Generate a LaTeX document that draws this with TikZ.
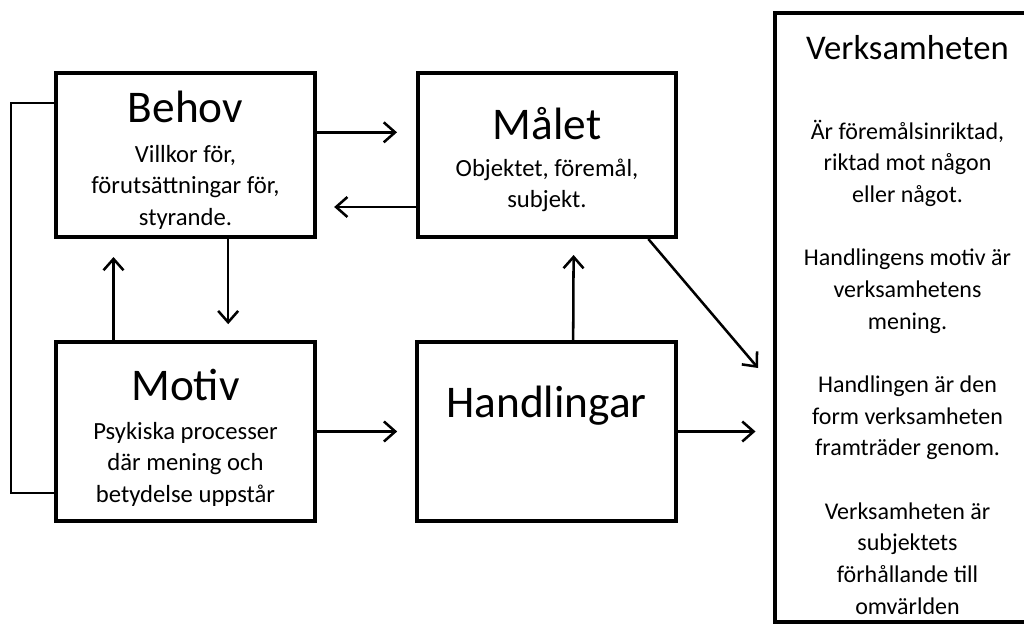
\documentclass[tikz,border=0pt]{standalone}
\usepackage{fontspec}
\setmainfont{Carlito}
\usetikzlibrary{arrows.meta,calc}
\tikzset{
  box/.style={draw, line width=3pt, minimum width=194pt, minimum height=123pt, inner sep=0pt},
  head/.style={font=\fontsize{34}{40}\selectfont, anchor=base, inner sep=0pt},
  sub/.style={font=\fontsize{18.5}{23.5}\selectfont, align=center, anchor=base, inner sep=0pt},
  pil/.style={-{Straight Barb[length=8.5pt,width=15pt]}, line width=1.9pt},
}
\begin{document}
\begin{tikzpicture}[x=0.75pt,y=-0.75pt]
\useasboundingbox (0,0) rectangle (1024,624);
% boxes
\node[box] (behov) at (185.5,155) {};
\node[box] (malet) at (547,155) {};
\node[box, minimum height=134pt] (motiv) at (185.5,431.5) {};
\node[box, minimum height=134pt] (handl) at (546.5,431.5) {};
\node[box, minimum width=199pt, minimum height=456.75pt] (verk) at (907.5,317.5) {};
% texts (base = last line)
\node[head] (behovtit) at (185.5,123) {Behov};
\node[sub] (behovtxt) at (185.5,225) {Villkor för,\\ förutsättningar för,\\ styrande.};
\node[head] (malettit) at (547,140) {Målet};
\node[sub] (malettxt) at (547,208) {Objektet, föremål,\\ subjekt.};
\node[head] (motivtit) at (185.5,400) {Motiv};
\node[sub] (motivtxt) at (185.5,502) {Psykiska processer\\ där mening och\\ betydelse uppstår};
\node[head] (handltit) at (546.5,417) {Handlingar};
\node[head, font=\fontsize{26}{30}\selectfont] (verktit) at (907.5,60) {Verksamheten};
\node[sub, font=\fontsize{18}{23.75}\selectfont] (verktxt) at (907.5,614) {Är föremålsinriktad,\\ riktad mot någon\\ eller något.\\[23.75pt]
  Handlingens motiv är\\ verksamhetens\\ mening.\\[23.75pt]
  Handlingen är den\\ form verksamheten\\ framträder genom.\\[23.75pt]
  Verksamheten är\\ subjektets\\ förhållande till\\ omvärlden};
% arrows
\draw[pil, shorten >=14pt] ([yshift=17pt]behov.east) -- ([yshift=17pt]malet.west);
\draw[pil, shorten >=13pt] ([yshift=-39pt]malet.west) -- ([yshift=-39pt]behov.east);
\draw[pil, shorten >=12pt] ([xshift=32pt]behov.south) -- ([xshift=32pt]motiv.north);
\draw[pil, shorten >=13.5pt] ([xshift=-54pt]motiv.north) -- ([xshift=-54pt]behov.south);
\draw[pil, shorten >=13.5pt] (motiv.east) -- (handl.west);
\draw[pil, shorten >=12pt] ([xshift=20pt]handl.north) -- ([xshift=20pt]malet.south);
\draw[pil, shorten >=13pt] (handl.east) -- (handl.east -| verk.west);
\coordinate (diagend) at (758,368);
\draw[pil] ([xshift=76pt]malet.south) -- (diagend);
% feedback line
\draw[line width=1.9pt] ([yshift=39pt]behov.west) -- ++(-43,0) |- ([yshift=-46pt]motiv.west);
\end{tikzpicture}
\end{document}
